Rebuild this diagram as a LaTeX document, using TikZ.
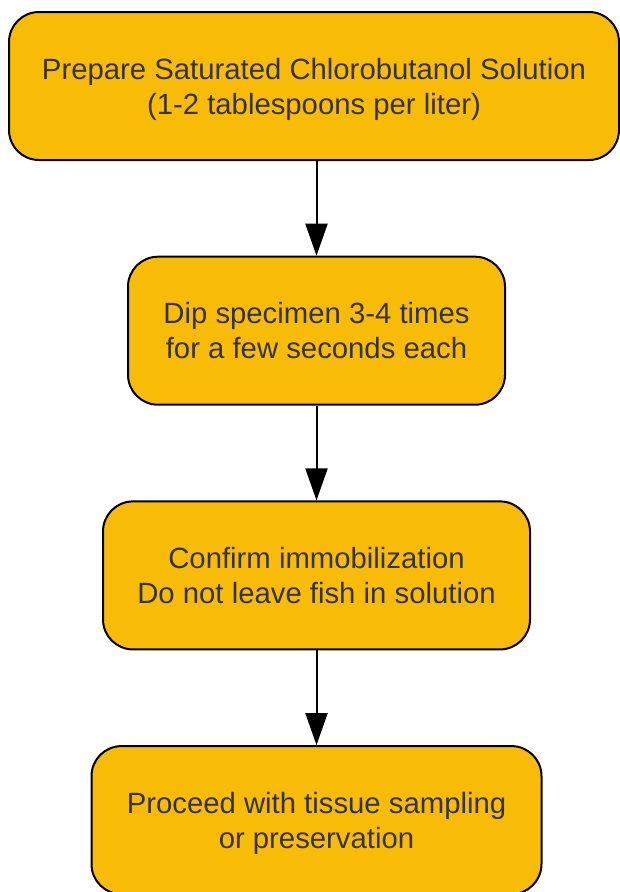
\documentclass[tikz,border=0pt]{standalone}
\usepackage{fontspec}
\setmainfont{Liberation Sans}
\usetikzlibrary{arrows.meta,positioning}
\definecolor{stepfill}{HTML}{F9BC06}
\definecolor{steptext}{HTML}{333333}

\begin{document}
\begin{tikzpicture}[x=1pt,y=1pt,
 every node/.style={rectangle,rounded corners=30pt,line width=2pt,draw=black,fill=stepfill,text=steptext,align=center,minimum height=148pt,text depth=0pt,font=\fontsize{29.3}{35}\selectfont},
 link/.style={line width=2pt,-{Triangle[length=32pt,width=22pt]}},
]
    \useasboundingbox (0,0) rectangle (620,-892);
    \node[minimum width=610pt] (prep) at (314,-86) {Prepare Saturated Chlorobutanol Solution\\(1-2 tablespoons per liter)};
    \node[minimum width=377pt,below=94.7pt of prep,xshift=2.5pt] (dip) {Dip specimen 3-4 times\\for a few seconds each};
    \node[minimum width=427pt,below=94.7pt of dip] (confirm) {Confirm immobilization\\Do not leave fish in solution};
    \node[minimum width=450pt,below=94.7pt of confirm] (proceed) {Proceed with tissue sampling\\or preservation};
    % arrows between the steps
    \draw[link] (prep.south -| dip.north) -- (dip.north);
    \draw[link] (dip) -- (confirm);
    \draw[link] (confirm) -- (proceed);
\end{tikzpicture}
\end{document}
